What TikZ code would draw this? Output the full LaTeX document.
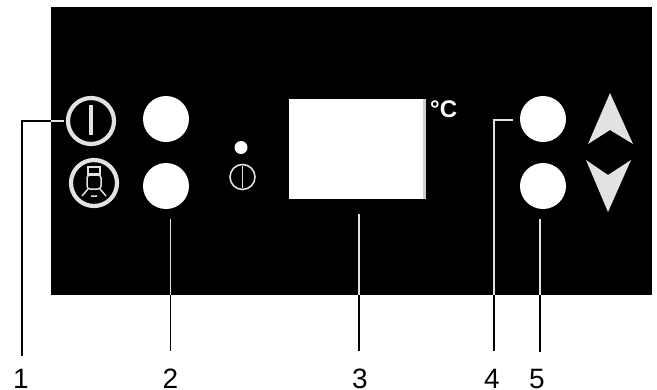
\documentclass[tikz,border=0pt]{standalone}
\usepackage{fontspec}
\setmainfont{Liberation Sans}
\definecolor{lightgrey}{HTML}{E2E2E2}
\tikzset{
  btn/.style={circle,fill=white,draw=none,minimum size=46pt,inner sep=0pt},
  ring/.style={circle,draw=lightgrey,line width=4.2pt,fill=black,inner sep=0pt,minimum size=46pt},
  smallring/.style={circle,draw=lightgrey,line width=1.6pt,fill=black,inner sep=0pt,minimum size=25pt},
  lead/.style={line width=1.5pt,black},
  leadin/.style={line width=1.5pt,lightgrey},
  num/.style={font=\fontsize{28}{28}\selectfont,text=black,inner sep=0pt,anchor=base},
  glyph/.style={draw=lightgrey,line width=1.5pt},
  arrowshape/.style={fill=lightgrey,draw=none}
}
\begin{document}
\begin{tikzpicture}[x=1pt,y=-1pt]
\useasboundingbox (0,0) rectangle (657,389);
\fill[white] (0,0) rectangle (657,389);
\fill[black] (51,7) rectangle (652,295);
% buttons
\node[btn] (b1) at (166,119) {};
\node[btn] (b2) at (166,186) {};
\node[btn] (b4) at (543,119) {};
\node[btn] (b5) at (543,186) {};
% icons
\node[ring] (i1) at (91,121) {};
\draw[lightgrey,line width=3.6pt] (91,105) -- (91,135);
\node[ring] (i2) at (94,183) {};
\draw[glyph] (88,167) rectangle (100,174);
\draw[glyph,rounded corners=3pt] (87,175) rectangle (101,189);
\draw[glyph] (88,189) -- (82,196) (100,189) -- (106,196) (91,196) -- (97,196);
% led
\node[circle,fill=white,minimum size=13pt,inner sep=0pt] (led) at (241,147.5) {};
\node[smallring] (i3) at (242.5,177) {};
\draw[lightgrey,line width=1.6pt] (242.5,166) -- (242.5,188);
% display
\fill[lightgrey!80!gray] (289,99) rectangle (426,199);
\node[rectangle,fill=white,minimum width=134pt,minimum height=100pt,inner sep=0pt,anchor=north west] (disp) at (289,99) {};
\node[text=white,inner sep=0pt,anchor=base west,font=\fontsize{24}{24}\selectfont\bfseries] (unit) at (430,117) {°C};
% arrows
\fill[arrowshape] (610,93) -- (633,144) -- (610,130) -- (588,144) -- cycle;
\fill[arrowshape] (586,160) -- (608,175) -- (631,160) -- (608,212) -- cycle;
% labels
\node[num] (n1) at (21,388) {1};
\node[num] (n2) at (170.5,388) {2};
\node[num] (n3) at (360,388) {3};
\node[num] (n4) at (492,388) {4};
\node[num] (n5) at (537,388) {5};
% leaders
\coordinate (t1) at (22,356);
\coordinate (t2) at (170.5,351);
\coordinate (t3) at (359,351);
\coordinate (t4) at (494,351);
\coordinate (t5) at (540,352);
\coordinate (k1) at (22,121);
\coordinate (k4) at (494,120);
\coordinate (e1) at (51,121);
\coordinate (f2) at (170.5,295);
\coordinate (f3) at (359,295);
\coordinate (f4) at (494,295);
\coordinate (f5) at (540,295);
\coordinate (s1) at (64,121);
\coordinate (s2) at (170.5,219);
\coordinate (s3) at (359,214);
\coordinate (s4) at (513,120);
\coordinate (s5) at (540,219);
\draw[lead] (t1) -- (k1) -- (e1);
\draw[leadin] (e1) -- (s1);
\draw[lead] (t2) -- (f2); \draw[leadin] (f2) -- (s2);
\draw[lead] (t3) -- (f3); \draw[leadin] (f3) -- (s3);
\draw[lead] (t4) -- (f4); \draw[leadin] (f4) -- (k4) -- (s4);
\draw[lead] (t5) -- (f5); \draw[leadin] (f5) -- (s5);
\end{tikzpicture}
\end{document}
